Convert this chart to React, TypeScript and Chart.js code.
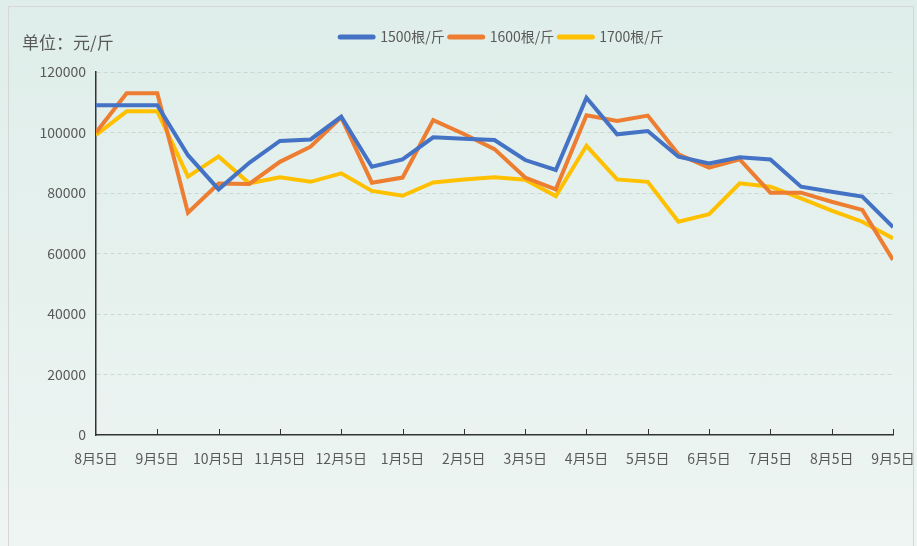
import React, { useEffect, useRef } from 'react';
import { Chart, registerables } from 'chart.js';

Chart.register(...registerables);

const tickLabels = ['8月5日', '9月5日', '10月5日', '11月5日', '12月5日', '1月5日', '2月5日', '3月5日', '4月5日', '5月5日', '6月5日', '7月5日', '8月5日', '9月5日'];
const seriesNames = ['1500根/斤', '1600根/斤', '1700根/斤'];
const seriesColors = ['#4472C4', '#ED7D31', '#FFC000'];
const price1500 = [109000, 109000, 109000, 92500, 81200, 90000, 97200, 97700, 105200, 88700, 91100, 98400, 97900, 97500, 90900, 87600, 111500, 99400, 100500, 92000, 89800, 91800, 91100, 82100, 80400, 78800, 68700];
const price1600 = [100000, 113000, 113000, 73500, 83100, 83000, 90300, 95300, 105000, 83400, 85100, 104100, 99500, 94500, 85100, 81200, 105700, 103800, 105600, 92800, 88400, 91100, 80100, 80100, 77100, 74400, 57900];
const price1700 = [99200, 107000, 107000, 85400, 92100, 83200, 85200, 83700, 86500, 80700, 79100, 83500, 84500, 85200, 84400, 79000, 95600, 84500, 83700, 70500, 73000, 83200, 82100, 78200, 74200, 70500, 65000];
const unitLabel = '单位：元/斤';

const FONT = '"Noto Sans CJK SC", "Noto Sans", sans-serif';
const TEXT = '#595959';

const decorPlugin = {
  id: 'decor',
  afterDraw(chart: any) {
    const ctx = chart.ctx as CanvasRenderingContext2D;
    const area = chart.chartArea;
    // inward tick marks on x axis
    const xs = chart.scales.x;
    ctx.save();
    ctx.strokeStyle = '#333333';
    ctx.lineWidth = 1;
    xs.ticks.forEach((_t: any, i: number) => {
      if (i === 0) return;
      const px = Math.round(xs.getPixelForTick(i)) + 0.5;
      ctx.beginPath();
      ctx.moveTo(px, area.bottom);
      ctx.lineTo(px, area.bottom - 6);
      ctx.stroke();
    });
    // unit title
    ctx.fillStyle = TEXT;
    ctx.font = `17px ${FONT}`;
    ctx.textBaseline = 'middle';
    ctx.textAlign = 'left';
    ctx.fillText(unitLabel, 22, 43);
    // legend
    ctx.font = `14px ${FONT}`;
    const sw = 37, gap = 5, itemGap = 3;
    const items = chart.data.datasets.map((d: any) => ({
      label: d.label,
      color: d.borderColor,
      w: ctx.measureText(d.label).width,
    }));
    const total = items.reduce((s: number, it: any) => s + sw + gap + it.w, 0) + itemGap * (items.length - 1);
    let x = 501 - total / 2;
    const y = 37;
    items.forEach((it: any) => {
      ctx.strokeStyle = it.color;
      ctx.lineWidth = 5;
      ctx.lineCap = 'round';
      ctx.beginPath();
      ctx.moveTo(x + 2, y);
      ctx.lineTo(x + sw - 2, y);
      ctx.stroke();
      ctx.fillStyle = TEXT;
      ctx.fillText(it.label, x + sw + gap, y);
      x += sw + gap + it.w + itemGap;
    });
    ctx.restore();
  },
};

export default function App() {
  const ref = useRef<HTMLCanvasElement | null>(null);
  useEffect(() => {
    if (!ref.current) return;
    const series = [price1500, price1600, price1700];
    const chart = new Chart(ref.current, {
      type: 'line',
      data: {
        datasets: series.map((vals, k) => ({
          label: seriesNames[k],
          data: vals.map((v, i) => ({ x: i, y: v })),
          borderColor: seriesColors[k],
          backgroundColor: seriesColors[k],
          borderWidth: 4,
          pointRadius: 0,
          tension: 0,
          fill: false,
        })),
      },
      options: {
        animation: false,
        responsive: false,
        devicePixelRatio: 1,
        layout: { padding: { left: 0, right: 24, top: 72, bottom: 81 } },
        plugins: { legend: { display: false }, tooltip: { enabled: false } },
        scales: {
          x: {
            type: 'linear',
            min: 0,
            max: 26,
            afterFit: (s: any) => { s.height = 30; s.paddingRight = 0; s.paddingLeft = 0; },
            afterBuildTicks: (s: any) => {
              s.ticks = tickLabels.map((_l, i) => ({ value: i * 2 }));
            },
            ticks: {
              autoSkip: false,
              maxRotation: 0,
              padding: 15,
              color: TEXT,
              font: { size: 14, family: FONT },
              callback: (v: any) => tickLabels[Math.round(Number(v) / 2)] ?? '',
            },
            grid: { display: false, drawTicks: false },
            border: { display: true, color: '#333333', width: 1.5 },
          },
          y: {
            min: 0,
            max: 120000,
            afterFit: (s: any) => { s.width = 96; },
            ticks: {
              stepSize: 20000,
              padding: 10,
              color: TEXT,
              font: { size: 14, family: FONT },
              callback: (v: any) => String(v),
            },
            grid: {
              drawTicks: false,
              color: (c: any) => (c.tick && c.tick.value === 0 ? 'rgba(0,0,0,0)' : '#c9d8d0'),
              lineWidth: 1,
            },
            border: { display: true, color: '#333333', width: 1.5, dash: [4, 3] },
          },
        },
      },
      plugins: [decorPlugin],
    } as any);
    return () => chart.destroy();
  }, []);

  return (
    <div
      style={{
        position: 'fixed',
        left: 0,
        top: 0,
        width: 917,
        height: 546,
        background: 'linear-gradient(180deg, #dfeeea 0%, #e6f1ee 50%, #eef5f3 100%)',
        overflow: 'hidden',
      }}
    >
      <div
        style={{
          position: 'absolute',
          left: 8,
          top: 6,
          width: 906,
          height: 560,
          border: '1px solid #d9d4d5',
          boxSizing: 'border-box',
        }}
      />
      <canvas ref={ref} width={917} height={546} style={{ position: 'absolute', left: 0, top: 0, width: 917, height: 546 }} />
    </div>
  );
}
